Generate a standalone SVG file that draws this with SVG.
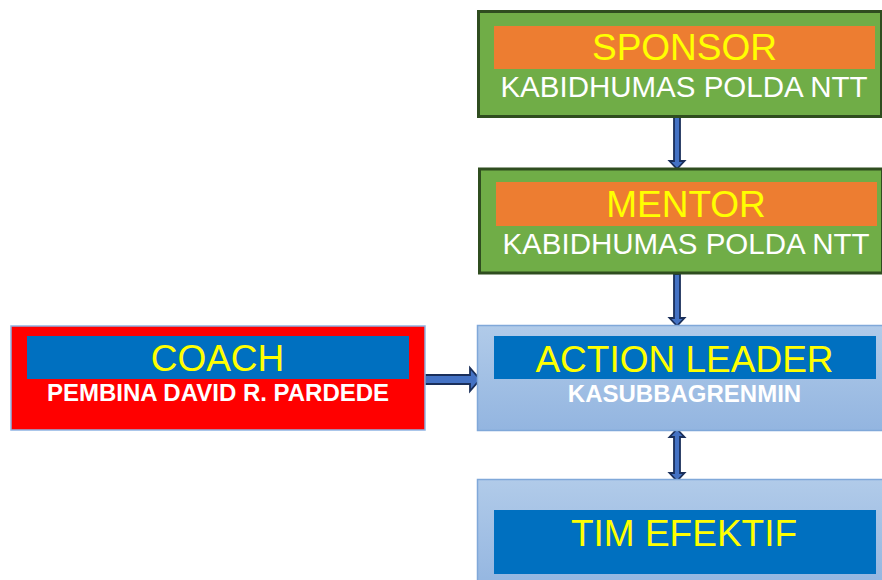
<svg xmlns="http://www.w3.org/2000/svg" width="882" height="580" viewBox="0 0 882 580">
<defs>
<linearGradient id="lb" x1="0" y1="0" x2="0" y2="1">
<stop offset="0" stop-color="#b1cbe9"/>
<stop offset="1" stop-color="#93b5e0"/>
</linearGradient>
</defs>
<style>
.green{fill:#70ad47;stroke:#2f4d1f;stroke-width:3}
.orange{fill:#ed7d31}
.blue{fill:#0070c0}
.lblue{fill:url(#lb);stroke:#80a8d9;stroke-width:1.5}
.red{fill:#ff0000;stroke:#8eb4e3;stroke-width:1.5}
.title{font-family:"Liberation Sans",Arial,sans-serif;font-size:37px;fill:#ffff00;text-anchor:middle}
.sub{font-family:"Liberation Sans",Arial,sans-serif;font-size:29.5px;fill:#ffffff;text-anchor:middle}
.subb{font-family:"Liberation Sans",Arial,sans-serif;font-size:24px;font-weight:bold;fill:#ffffff;text-anchor:middle}
.arrow{fill:#4472c4;stroke:#1a2f5a;stroke-width:1.8;stroke-linejoin:miter}
</style>
<rect width="882" height="580" fill="#ffffff"/>
<g id="connectors">
<path class="arrow" d="M674,117 L680,117 L680,161 L684.5,161 L677,169 L669.5,161 L674,161 Z"/>
<path class="arrow" d="M674,274 L680,274 L680,318 L684.5,318 L677,326 L669.5,318 L674,318 Z"/>
<path class="arrow" d="M425,375 L470,375 L470,368 L480,379.5 L470,391 L470,384 L425,384 Z"/>
<path class="arrow" d="M677,429 L684.5,437 L680,437 L680,473 L684.5,473 L677,481 L669.5,473 L674,473 L674,437 L669.5,437 Z"/>
</g>
<g id="sponsor">
<rect class="green" x="478.5" y="11.5" width="403" height="105"/>
<rect class="orange" x="494" y="26" width="381" height="43"/>
<text class="title" x="684.5" y="60">SPONSOR</text>
<text class="sub" x="684" y="97">KABIDHUMAS POLDA NTT</text>
</g>
<g id="mentor">
<rect class="green" x="479.5" y="169" width="403" height="104"/>
<rect class="orange" x="496" y="182" width="381" height="44"/>
<text class="title" x="686" y="217">MENTOR</text>
<text class="sub" x="686" y="254">KABIDHUMAS POLDA NTT</text>
</g>
<g id="coach">
<rect class="red" x="11" y="326" width="414" height="104"/>
<rect class="blue" x="27" y="336" width="382" height="43"/>
<text class="title" x="217.5" y="371">COACH</text>
<text class="subb" x="218" y="401">PEMBINA DAVID R. PARDEDE</text>
</g>
<g id="action-leader">
<rect class="lblue" x="477.5" y="325.5" width="406" height="105"/>
<rect class="blue" x="494" y="336" width="382" height="43"/>
<text class="title" x="684.5" y="372">ACTION LEADER</text>
<text class="subb" x="684.5" y="402">KASUBBAGRENMIN</text>
</g>
<g id="tim-efektif">
<rect class="lblue" x="477.5" y="479.5" width="406" height="110"/>
<rect class="blue" x="494" y="510" width="382" height="64"/>
<text class="title" x="684" y="546">TIM EFEKTIF</text>
</g>
</svg>
